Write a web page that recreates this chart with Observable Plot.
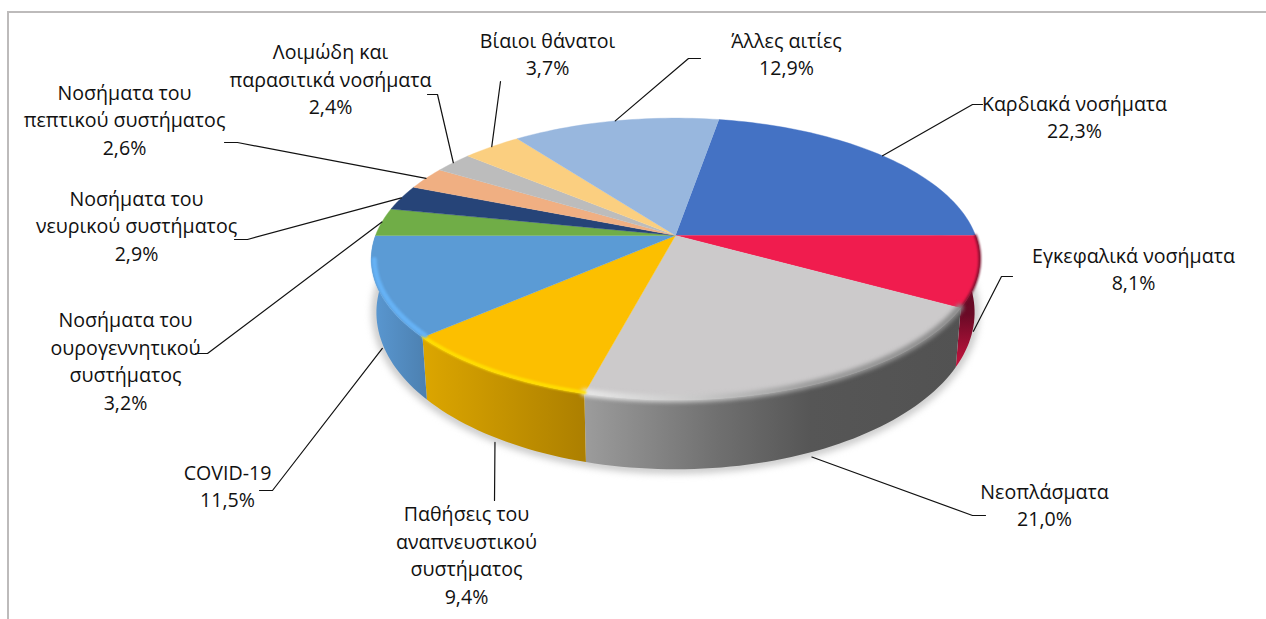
<!DOCTYPE html>
<html><head><meta charset="utf-8">
<style>html,body{margin:0;padding:0;background:#fff}svg{display:block}</style>
<script src="https://cdn.jsdelivr.net/npm/d3@7"></script>
<script src="https://cdn.jsdelivr.net/npm/@observablehq/plot@0.6"></script>
</head><body><div id="c"></div>
<script>
const categories = ["Καρδιακά νοσήματα","Εγκεφαλικά νοσήματα","Νεοπλάσματα","Παθήσεις του\nαναπνευστικού\nσυστήματος","COVID-19","Νοσήματα του\nουρογεννητικού\nσυστήματος","Νοσήματα του\nνευρικού συστήματος","Νοσήματα του\nπεπτικού συστήματος","Λοιμώδη και\nπαρασιτικά νοσήματα","Βίαιοι θάνατοι","Άλλες αιτίες"];
const shares = [22.3,8.1,21.0,9.4,11.5,3.2,2.9,2.6,2.4,3.7,12.9];
const colors = ["#4472C4","#F01C4E","#CCCACB","#FCBF00","#5B9BD5","#70AD47","#264478","#F0AF82","#BCBCBC","#FBCF80","#98B7DE"];
// label layout: text centre, elbow and leader end (page units), separate from the data
const labelX = [1074,1133,1044,466,227,125,136,124,330,547,786];
const labelY = [118,270,506,556,487,362,227,121,80.5,55,55];
const elbows = [[972,104,982,104],[1001,276,1012,276],[972,515,985,515],[494,500,494,500],[272,490,259,490],[207,353,195,353],[247,239,234,239],[237,142,224,142],[437,94,427,94],[500,81,500,81],[688,58,700,58]];
const wallStart = 9.72;

// perspective model of the disc
const cx=675, cy=235, fx=300, fy=137, k=0.167, depth=50.7;
const top3 = a => {const t=a*Math.PI/180,X=Math.sin(t),Y=-Math.cos(t),d=1/(1-k*Y);return [cx+fx*X*d,cy+fy*Y*d];};
const bot3 = a => {const [x,y]=top3(a);return [cx+.983*(x-cx),cy+depth+1.113*(y-cy)];};
const rim3 = inset => a => {const [x,y]=top3(a);return [cx+(x-cx)*(1-inset/300),cy+(y-cy)*(1-inset/150)];};
let acc=wallStart;
const slices=shares.map((v,i)=>{const a0=acc;acc+=v*3.6;return {i,a0,a1:acc,mid:(a0+acc)/2,v,name:categories[i],color:colors[i]};});
const arc=(a0,a1,f)=>{const n=Math.max(2,Math.ceil((a1-a0)/1.5));return d3.range(n+1).map(j=>f(a0+(a1-a0)*j/n));};
const topPoly=s=>[[cx,cy],...arc(s.a0,s.a1,top3)];
const wallPoly=s=>[...arc(s.a0,s.a1,top3),...arc(s.a0,s.a1,bot3).reverse()];
const P=(pts,o)=>Plot.line(pts,{x:d=>d[0],y:d=>d[1],...o});

const walls={2:"url(#wGrey)",3:"url(#wYel)",4:"url(#wBlue)",1:"url(#wRed)"};
const rims=[[1,"#7a0f2c",2.5,.9,0,0],[2,"url(#rGrey)",7,2,1,0],[3,"#FFE000",3.5,1,1,0],[4,"#66B2F5",5,1.2,3,10]];
const gradients=`
<linearGradient id="wBlue"><stop offset="0" stop-color="#5A98D2"/><stop offset="1" stop-color="#4C80B0"/></linearGradient>
<linearGradient id="wYel"><stop offset="0" stop-color="#DCA600"/><stop offset="1" stop-color="#AC7F00"/></linearGradient>
<linearGradient id="wGrey"><stop offset="0" stop-color="#9C9C9C"/><stop offset=".35" stop-color="#707070"/><stop offset=".6" stop-color="#565656"/><stop offset="1" stop-color="#525252"/></linearGradient>
<linearGradient id="wRed" x1="0" y1="0" x2="0" y2="1"><stop offset="0" stop-color="#5A0820"/><stop offset=".6" stop-color="#6A0A26"/><stop offset="1" stop-color="#C8143F"/></linearGradient>
<linearGradient id="rGrey"><stop offset="0" stop-color="#E8E8E8"/><stop offset=".3" stop-color="#C8C8C8"/><stop offset=".6" stop-color="#9a9a9a"/><stop offset="1" stop-color="#8a8a8a"/></linearGradient>`;

const leaderRows=slices.flatMap(s=>{
  const front=Math.cos(s.mid*Math.PI/180)<-0.2;
  let start=(front?bot3:top3)(s.mid); if(front) start=[start[0],start[1]+5];
  const e=elbows[s.i];
  return [start,[e[0],e[1]],[e[2],e[3]]].map(p=>({x:p[0],y:p[1],z:s.i}));
});

const outline=arc(70,285,bot3);
const chart=Plot.plot({
  width:1266,height:619,margin:0,
  x:{domain:[0,1266],range:[0,1266],axis:null},
  y:{domain:[0,619],range:[0,619],axis:null},
  style:{background:"#fff",fontFamily:"'Open Sans', 'Noto Sans', sans-serif"},
  marks:[
    ()=>d3.create("svg:defs").html(gradients).node(),
    Plot.ruleY([11.5],{x1:7,x2:1266,stroke:"#BDBBBB",strokeWidth:2}),
    Plot.ruleX([7.5],{y1:11,y2:619,stroke:"#BDBBBB",strokeWidth:2}),
    P(outline,{stroke:"#c8c8c8",strokeWidth:9,imageFilter:"blur(3.5px)"}),
    ...slices.filter(s=>walls[s.i]).map(s=>P(wallPoly(s),{fill:walls[s.i],stroke:null})),
    ...slices.map(s=>P(topPoly(s),{fill:s.color,stroke:s.color,strokeWidth:.4})),
    ...rims.map(([i,c,w,b,ins,trim])=>P(arc(slices[i].a0,slices[i].a1-trim,rim3(ins)),{stroke:c,strokeWidth:w,imageFilter:`blur(${b}px)`})),
    Plot.line(leaderRows,{x:"x",y:"y",z:"z",stroke:"#111",strokeWidth:1.2}),
    Plot.text(slices,{x:s=>labelX[s.i],y:s=>labelY[s.i]-3,text:s=>`${s.name}\n${s.v.toFixed(1).replace(".",",")}%`,fontSize:19.6,lineHeight:1.41,fill:"#111",lineAnchor:"middle",textAnchor:"middle"})
  ]
});
document.getElementById("c").append(chart);
</script></body></html>
